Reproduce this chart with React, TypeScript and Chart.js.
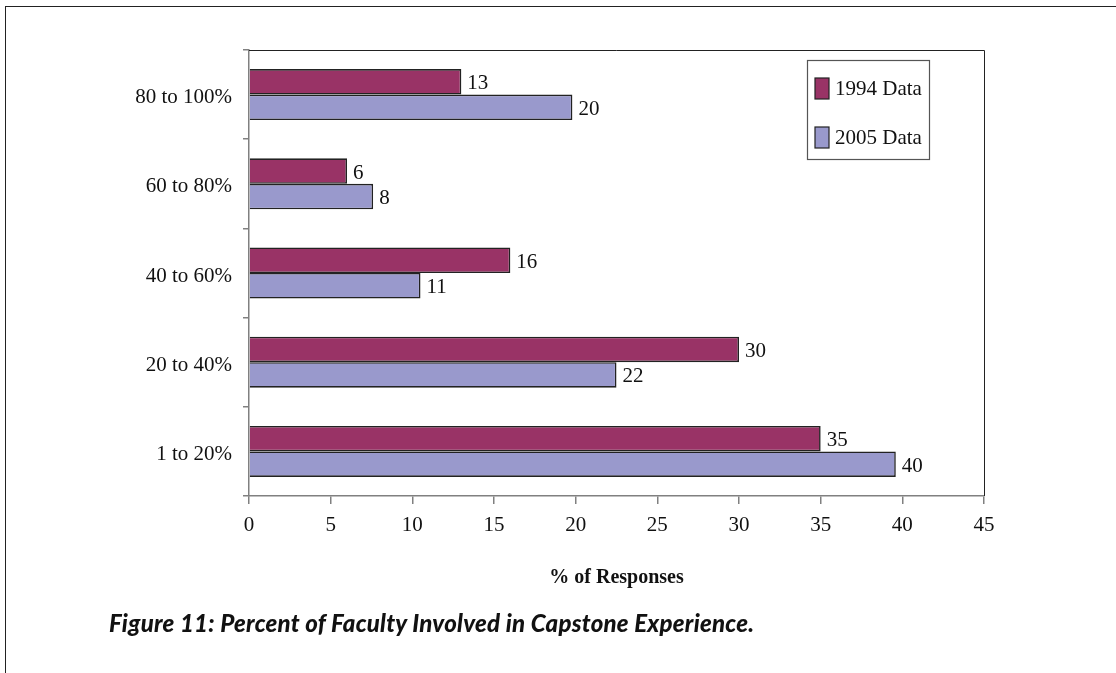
import React, { useEffect, useRef } from "react";
import { Chart, registerables } from "chart.js";

Chart.register(...registerables);

const categories = ["80 to 100%", "60 to 80%", "40 to 60%", "20 to 40%", "1 to 20%"];
const series1994 = [13, 6, 16, 30, 35];
const series2005 = [19.8, 7.6, 10.5, 22.5, 39.6];
const labels1994 = ["13", "6", "16", "30", "35"];
const labels2005 = ["20", "8", "11", "22", "40"];
const seriesNames = ["1994 Data", "2005 Data"];
const seriesColors = ["#993366", "#9999CC"];
const xTicks = [0, 5, 10, 15, 20, 25, 30, 35, 40, 45];

const SERIF = "'Liberation Serif', 'Times New Roman', serif";

const valueLabelPlugin = {
  id: "valueLabels",
  afterDatasetsDraw(chart: any) {
    const ctx = chart.ctx;
    const texts = [labels1994, labels2005];
    ctx.save();
    ctx.font = `21px ${SERIF}`;
    ctx.fillStyle = "#111";
    ctx.textAlign = "left";
    ctx.textBaseline = "middle";
    chart.data.datasets.forEach((_: any, di: number) => {
      const meta = chart.getDatasetMeta(di);
      meta.data.forEach((bar: any, i: number) => {
        ctx.fillText(texts[di][i], bar.x + 6, bar.y + 2);
      });
    });
    ctx.restore();
  },
};

const frameLegendPlugin = {
  id: "frameLegend",
  afterDraw(chart: any) {
    const ctx = chart.ctx;
    const a = chart.chartArea;
    ctx.save();
    ctx.strokeStyle = "#222";
    ctx.lineWidth = 1;
    ctx.beginPath();
    ctx.moveTo(a.left, a.top + 0.5);
    ctx.lineTo(a.right + 0.5, a.top + 0.5);
    ctx.lineTo(a.right + 0.5, a.bottom);
    ctx.stroke();

    const bx = 807, by = 60, bw = 122, bh = 99;
    ctx.strokeStyle = "#555";
    ctx.lineWidth = 1.2;
    ctx.strokeRect(bx + 0.5, by + 0.5, bw, bh);
    ctx.font = `21px ${SERIF}`;
    ctx.textBaseline = "middle";
    ctx.textAlign = "left";
    chart.data.datasets.forEach((ds: any, i: number) => {
      const cy = 88 + i * 49;
      ctx.fillStyle = ds.backgroundColor;
      ctx.fillRect(815, cy - 10, 14, 21);
      ctx.strokeStyle = "#222";
      ctx.lineWidth = 1.2;
      ctx.strokeRect(815, cy - 10, 14, 21);
      ctx.fillStyle = "#111";
      ctx.fillText(ds.label, 835, cy + 1);
    });
    ctx.restore();
  },
};

export default function App() {
  const ref = useRef<HTMLCanvasElement | null>(null);

  useEffect(() => {
    document.body.style.margin = "0";
    const canvas = ref.current;
    if (!canvas) return;
    const chart = new Chart(canvas, {
      type: "bar",
      data: {
        labels: categories,
        datasets: [
          {
            label: seriesNames[0],
            data: series1994,
            backgroundColor: seriesColors[0],
            borderColor: "#222",
            borderWidth: 1.6,
            categoryPercentage: 0.572,
            barPercentage: 1,
          },
          {
            label: seriesNames[1],
            data: series2005,
            backgroundColor: seriesColors[1],
            borderColor: "#222",
            borderWidth: 1.6,
            categoryPercentage: 0.572,
            barPercentage: 1,
          },
        ],
      },
      options: {
        indexAxis: "y",
        animation: false,
        responsive: false,
        maintainAspectRatio: false,
        layout: { padding: { left: 0, top: 50, right: 132, bottom: 0 } },
        plugins: {
          legend: { display: false },
          tooltip: { enabled: false },
        },
        scales: {
          x: {
            type: "linear",
            min: 0,
            max: 45,
            afterBuildTicks: (scale: any) => {
              scale.ticks = xTicks.map((v) => ({ value: v }));
            },
            afterFit: (scale: any) => {
              scale.height = 177;
            },
            grid: {
              drawOnChartArea: false,
              drawTicks: true,
              tickLength: 8,
              color: "#808080",
              lineWidth: 1.5,
            },
            border: { color: "#808080", width: 1.5 },
            ticks: {
              color: "#111",
              font: { family: SERIF, size: 21 },
              padding: 9,
              maxRotation: 0,
            },
            title: {
              display: true,
              text: "% of Responses",
              color: "#111",
              font: { family: SERIF, size: 20, weight: "bold" },
              padding: { top: 0, bottom: 83 },
            },
          },
          y: {
            type: "category",
            afterFit: (scale: any) => {
              scale.width = 249;
            },
            grid: {
              offset: true,
              drawOnChartArea: false,
              drawTicks: true,
              tickLength: 6,
              color: "#808080",
              lineWidth: 1.5,
            },
            border: { color: "#808080", width: 1.5 },
            ticks: {
              color: "#111",
              font: { family: SERIF, size: 21 },
              padding: 11,
              labelOffset: 3,
            },
          },
        },
      },
      plugins: [valueLabelPlugin, frameLegendPlugin],
    } as any);
    return () => chart.destroy();
  }, []);

  return (
    <div style={{ position: "relative", width: 1116, height: 673, overflow: "hidden", background: "#fff" }}>
      <div
        style={{
          position: "absolute",
          left: 5,
          top: 6,
          width: 1111,
          height: 667,
          borderTop: "1.5px solid #222",
          borderLeft: "1.5px solid #222",
          boxSizing: "border-box",
        }}
      />
      <canvas ref={ref} width={1116} height={673} style={{ position: "absolute", left: 0, top: 0 }} />
      <div
        style={{
          position: "absolute",
          left: 109,
          top: 607,
          fontFamily: "Lato, 'Open Sans', sans-serif",
          fontWeight: 900,
          fontStyle: "italic",
          fontSize: 24,
          letterSpacing: "0.25px",
          lineHeight: "32px",
          color: "#111",
          whiteSpace: "nowrap",
        }}
      >
        Figure 11: Percent of Faculty Involved in Capstone Experience.
      </div>
    </div>
  );
}
